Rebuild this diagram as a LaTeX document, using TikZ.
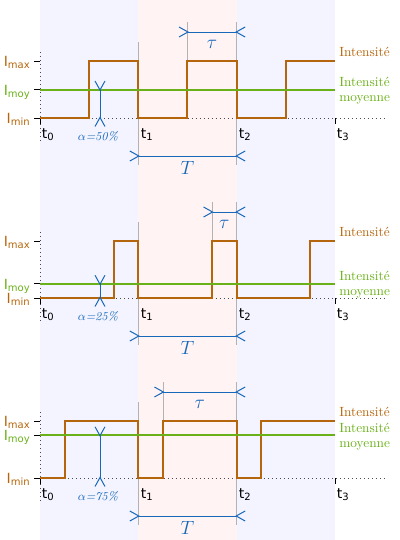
\documentclass[tikz,border=0pt]{standalone}
\usepackage{fontspec}
\usetikzlibrary{arrows.meta, calc}
\newfontfamily\labelfont{DejaVu Sans}
\definecolor{orangeI}{RGB}{181,101,11}
\definecolor{vertI}{RGB}{106,176,24}
\definecolor{bleuC}{RGB}{24,104,186}
\definecolor{fondbleu}{RGB}{243,244,255}
\definecolor{fondrose}{RGB}{255,244,243}
\newcommand{\lsub}[1]{\raisebox{-1.5pt}{\fontsize{7.5}{9}\selectfont #1}}
\tikzset{
  signal/.style={orangeI, line width=1.5pt},
  moyenne/.style={vertI, line width=1.5pt},
  repere/.style={black!30, line width=0.6pt},
  trait/.style={black, line width=0.7pt},
  pointille/.style={black!70, line width=0.5pt, dash pattern=on 0.6pt off 2.4pt},
  dimension/.style={bleuC, line width=0.75pt,
    {Straight Barb[reversed, length=6.75pt, width=7.5pt]}-{Straight Barb[reversed, length=6.75pt, width=7.5pt]},
    shorten <=-6.75pt, shorten >=-6.75pt},
  cotelabel/.style={bleuC, font=\fontsize{14.5}{17}\selectfont},
  ilabel/.style={anchor=base east, inner sep=0pt, font=\labelfont\fontsize{10.5}{12}\selectfont},
  tlabel/.style={anchor=base west, inner sep=0pt, font=\labelfont\fontsize{10.5}{12}\selectfont},
  legende/.style={inner sep=0pt, align=left, font=\fontsize{10}{11.25}\selectfont},
}
\begin{document}
\begin{tikzpicture}[x=0.75pt, y=-0.75pt]
  \useasboundingbox (0,0) rectangle (400,540);
  \fill[fondbleu] (40,0) rectangle (138.33,540);
  \fill[fondrose] (138.33,0) rectangle (236.67,540);
  \fill[fondbleu] (236.67,0) rectangle (335,540);

  \foreach \k/\oy/\pc in {1/0/50, 2/180/25, 3/360/75} {
    \pgfmathsetmacro\ymax{61+\oy}
    \pgfmathsetmacro\ymin{118+\oy}
    \pgfmathsetmacro\ymoy{118+\oy-57*\pc/100}
    \pgfmathsetmacro\xr{98.33*(1-\pc/100)}

    % axes
    \draw[pointille] (40,\ymax-9) -- (40,\ymin+25);
    \draw[pointille] (40,\ymin) -- (385,\ymin);
    \draw[trait] (34,\ymax) -- (40,\ymax) (34,\ymoy) -- (40,\ymoy) (34,\ymin) -- (40,\ymin);
    \draw[trait] (40,\ymin) -- (40,\ymin+6) (335,\ymin) -- (335,\ymin+6);

    % lignes de rappel
    \draw[repere] (138.33,42+\oy) -- (138.33,165+\oy);
    \draw[repere] (236.67,22+\oy) -- (236.67,165+\oy);
    \draw[repere] (138.33+\xr,22+\oy) -- (138.33+\xr,\ymax);

    % signal
    \draw[signal] (40,\ymin) -- (40+\xr,\ymin) -- (40+\xr,\ymax) -- (138.33,\ymax) -- (138.33,\ymin)
      -- (138.33+\xr,\ymin) -- (138.33+\xr,\ymax) -- (236.67,\ymax) -- (236.67,\ymin)
      -- (236.67+\xr,\ymin) -- (236.67+\xr,\ymax) -- (335,\ymax);
    \draw[moyenne] (40,\ymoy) -- (335,\ymoy);

    % cotes
    \coordinate (ta\k) at (138.33+\xr,32+\oy);
    \coordinate (tb\k) at (236.67,32+\oy);
    \coordinate (pa\k) at (138.33,156+\oy);
    \coordinate (pb\k) at (236.67,156+\oy);
    \coordinate (aa\k) at (100,\ymoy);
    \coordinate (ab\k) at (100,\ymin);
    \draw[dimension] (ta\k) -- (tb\k);
    \draw[dimension] (pa\k) -- (pb\k);
    \draw[dimension] (aa\k) -- (ab\k);
    \node[cotelabel] (tau\k) at ($(ta\k)!0.5!(tb\k)$) [yshift=-9pt] {$\tau$};
    \node[cotelabel] (per\k) at (187.5,168+\oy) {$T$};
    \node[bleuC, font=\fontsize{9}{11}\selectfont] (alpha\k) at (98,136+\oy) {\textit{$\alpha$=\pc\%}};

    % textes
    \node[ilabel, text=orangeI] (imax\k) at (30,\ymax+5.5) {I\lsub{max}};
    \node[ilabel, text=vertI] (imoy\k) at (30,\ymoy+5.5) {I\lsub{moy}};
    \node[ilabel, text=orangeI] (imin\k) at (30,\ymin+5) {I\lsub{min}};
    \node[tlabel] (t0\k) at (41.5,\ymin+20) {t\lsub{0}};
    \node[tlabel] (t1\k) at (140.5,\ymin+20) {t\lsub{1}};
    \node[tlabel] (t2\k) at (238.5,\ymin+20) {t\lsub{2}};
    \node[tlabel] (t3\k) at (336.5,\ymin+20) {t\lsub{3}};
    \node[legende, anchor=base west, text=orangeI] (li\k) at (339,\ymax-5) {Intensité};
    \node[legende, anchor=west, text=vertI] (lm\k) at (339,\ymoy+1) {Intensité\\moyenne};
  }
\end{tikzpicture}
\end{document}
